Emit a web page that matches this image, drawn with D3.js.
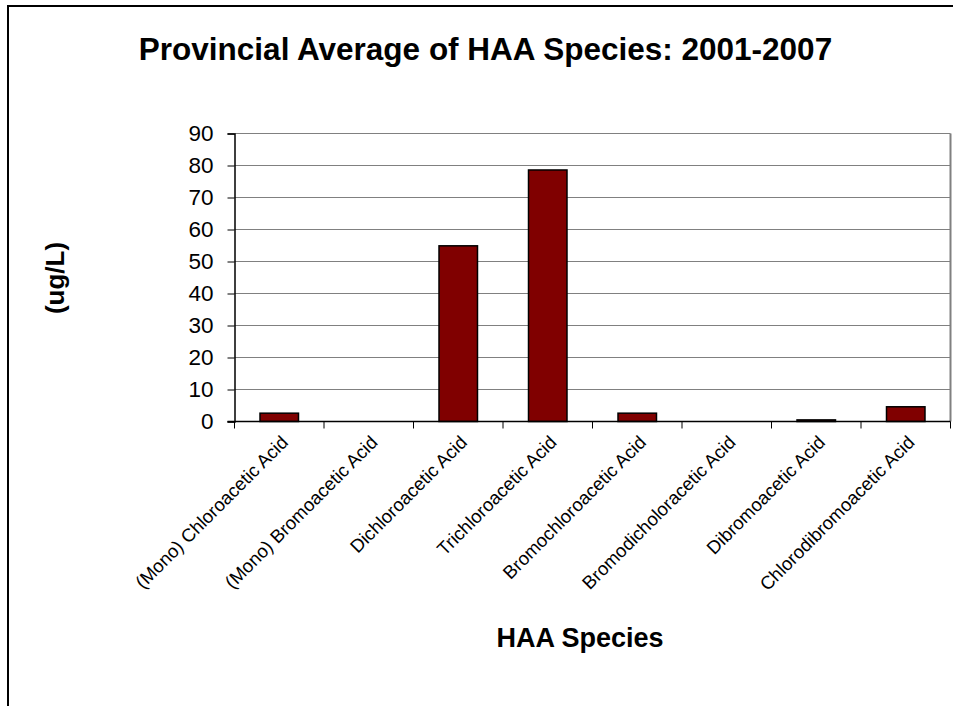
<!DOCTYPE html>
<html>
<head>
<meta charset="utf-8">
<script src="https://cdn.jsdelivr.net/npm/d3@7/dist/d3.min.js"></script>
<style>
  html, body { margin: 0; padding: 0; background: #fff; }
  svg { display: block; font-family: "Liberation Sans", Arial, sans-serif; }
</style>
</head>
<body>
<svg id="chart" width="953" height="706"></svg>
<script>
// HAA species and their provincial averages (ug/L), 2001-2007
const categories = [
  "(Mono) Chloroacetic Acid",
  "(Mono) Bromoacetic Acid",
  "Dichloroacetic Acid",
  "Trichloroacetic Acid",
  "Bromochloroacetic Acid",
  "Bromodicholoracetic Acid",
  "Dibromoacetic Acid",
  "Chlorodibromoacetic Acid"
];
const values = [2.6, 0, 54.9, 78.6, 2.6, 0, 0.5, 4.6];
const yTicks = [0, 10, 20, 30, 40, 50, 60, 70, 80, 90];

const titleText = "Provincial Average of HAA Species: 2001-2007";
const xTitle = "HAA Species";
const yTitle = "(ug/L)";

const svg = d3.select("#chart");

// outer chart frame (left and top edges visible)
svg.append("path")
  .attr("d", "M8,706 L8,6 L953,6")
  .attr("fill", "none")
  .attr("stroke", "#000")
  .attr("stroke-width", 2);

const plot = { left: 234.5, right: 950.5, top: 133.5, bottom: 421.5 };

const x = d3.scaleBand()
  .domain(categories)
  .range([plot.left, plot.right])
  .paddingInner(0.57)
  .paddingOuter(0.285);

const xTickScale = d3.scaleBand()
  .domain(categories)
  .range([plot.left, plot.right]);

const y = d3.scaleLinear()
  .domain([0, 90])
  .range([plot.bottom, plot.top]);

// horizontal gridlines
svg.append("g")
  .selectAll("line")
  .data(yTicks.filter(d => d > 0))
  .join("line")
  .attr("x1", plot.left)
  .attr("x2", plot.right)
  .attr("y1", d => y(d))
  .attr("y2", d => y(d))
  .attr("stroke", "#808080")
  .attr("stroke-width", 1);

// right edge of plot area
svg.append("line")
  .attr("x1", plot.right).attr("x2", plot.right)
  .attr("y1", plot.top).attr("y2", plot.bottom)
  .attr("stroke", "#808080")
  .attr("stroke-width", 2);

// bars
svg.append("g")
  .selectAll("rect")
  .data(values.map((v, i) => ({ c: categories[i], v })))
  .join("rect")
  .attr("x", d => x(d.c))
  .attr("width", x.bandwidth())
  .attr("y", d => y(d.v))
  .attr("height", d => y(0) - y(d.v))
  .attr("fill", "#800000")
  .attr("stroke", "#000")
  .attr("stroke-width", 1.5);

// y axis
const yAxis = svg.append("g")
  .attr("transform", `translate(${plot.left},0)`)
  .call(d3.axisLeft(y).tickValues(yTicks).tickSize(7).tickPadding(14).tickFormat(d3.format("d")));
yAxis.select(".domain").attr("stroke", "#000").attr("stroke-width", 1.5);
yAxis.selectAll(".tick line").attr("stroke", "#000").attr("stroke-width", 1);
yAxis.selectAll(".tick text")
  .attr("font-size", 22.5)
  .attr("font-family", "Liberation Sans, Arial, sans-serif")
  .attr("fill", "#000");

// x axis with ticks at category boundaries
const xAxisG = svg.append("g")
  .attr("transform", `translate(0,${plot.bottom})`);
xAxisG.append("line")
  .attr("x1", plot.left - 7).attr("x2", plot.right)
  .attr("y1", 0).attr("y2", 0)
  .attr("stroke", "#000").attr("stroke-width", 1.5);
const boundaries = categories.map(c => xTickScale(c)).concat([plot.right]);
xAxisG.selectAll("line.tick")
  .data(boundaries)
  .join("line")
  .attr("class", "tick")
  .attr("x1", d => d).attr("x2", d => d)
  .attr("y1", 0).attr("y2", 7)
  .attr("stroke", "#000").attr("stroke-width", 1);

// rotated category labels
xAxisG.selectAll("text.cat")
  .data(categories)
  .join("text")
  .attr("class", "cat")
  .attr("transform", d => `translate(${xTickScale(d) + xTickScale.bandwidth() / 2 + 10},${22}) rotate(-45)`)
  .attr("text-anchor", "end")
  .attr("font-size", 18.5)
  .attr("fill", "#000")
  .text(d => d);

// titles
svg.append("text")
  .attr("x", 485.5)
  .attr("y", 60)
  .attr("text-anchor", "middle")
  .attr("font-size", 31.5)
  .attr("font-weight", "bold")
  .text(titleText);

svg.append("text")
  .attr("x", 580)
  .attr("y", 647)
  .attr("text-anchor", "middle")
  .attr("font-size", 27)
  .attr("font-weight", "bold")
  .text(xTitle);

svg.append("text")
  .attr("transform", "translate(64,278) rotate(-90)")
  .attr("text-anchor", "middle")
  .attr("font-size", 26)
  .attr("font-weight", "bold")
  .text(yTitle);
</script>
</body>
</html>
